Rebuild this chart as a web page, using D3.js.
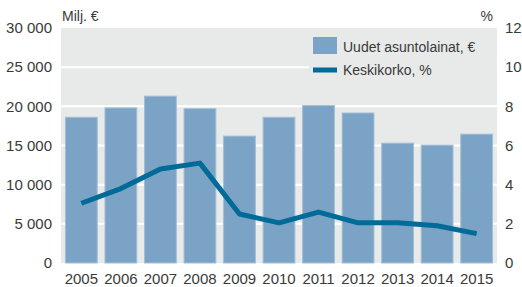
<!DOCTYPE html>
<html>
<head>
<meta charset="utf-8">
<script src="https://cdn.jsdelivr.net/npm/d3@7"></script>
<style>
  body { margin: 0; background: #fff; }
  text { font-family: 'Liberation Sans', Arial, sans-serif; fill: #3a3a3a; }
</style>
</head>
<body>
<div id="chart"></div>
<script>
const years = ['2005', '2006', '2007', '2008', '2009', '2010', '2011', '2012', '2013', '2014', '2015'];
// Uudet asuntolainat, milj. €
const loans = [18600, 19800, 21300, 19700, 16200, 18600, 20100, 19150, 15300, 15050, 16450];
// Keskikorko, %
const rates = [3.05, 3.8, 4.8, 5.1, 2.5, 2.05, 2.6, 2.05, 2.05, 1.9, 1.5];
const leftTicks = [0, 5000, 10000, 15000, 20000, 25000, 30000];
const rightTicks = [0, 2, 4, 6, 8, 10, 12];

const totalWidth = 522;
const totalHeight = 287;
const margin = { top: 28, right: 25, bottom: 24, left: 61 };
const width = totalWidth - margin.left - margin.right;
const height = totalHeight - margin.top - margin.bottom;

const barColor = '#7aa3c6';
const lineColor = '#006b98';
const bgColor = '#e8e9e9';

const fmt = (v) => d3.format(',')(v).replace(/,/g, ' ');

const svg = d3
  .select('#chart')
  .append('svg')
  .attr('width', totalWidth)
  .attr('height', totalHeight)
  .append('g')
  .attr('transform', `translate(${margin.left}, ${margin.top})`);

const xScale = d3.scaleBand().domain(years).range([0, width]).paddingInner(0.17).paddingOuter(0.1);
const yLeft = d3.scaleLinear().domain([0, 30000]).range([height, 0]);
const yRight = d3.scaleLinear().domain([0, 12]).range([height, 0]);

// grey plot background
svg.append('rect')
  .attr('width', width)
  .attr('height', height)
  .attr('fill', bgColor);

// white gridlines
svg.append('g')
  .selectAll('line')
  .data(leftTicks.slice(1, -1))
  .join('line')
  .attr('x1', 0)
  .attr('x2', width)
  .attr('y1', (d) => yLeft(d))
  .attr('y2', (d) => yLeft(d))
  .attr('stroke', '#fff')
  .attr('stroke-width', 2);

// bars
svg.append('g')
  .selectAll('rect')
  .data(years)
  .join('rect')
  .attr('x', (d) => xScale(d) + 0.5)
  .attr('y', (d, i) => yLeft(loans[i]))
  .attr('width', xScale.bandwidth() - 1)
  .attr('height', (d, i) => height - yLeft(loans[i]))
  .attr('fill', barColor)
  .attr('stroke', '#a3bfd8')
  .attr('stroke-width', 1);

// interest line
svg.append('path')
  .datum(rates)
  .attr('fill', 'none')
  .attr('stroke', lineColor)
  .attr('stroke-width', 5)
  .attr('stroke-linejoin', 'round')
  .attr('d', d3.line()
    .x((d, i) => xScale(years[i]) + xScale.bandwidth() / 2)
    .y((d) => yRight(d)));

// left axis
const leftAxis = svg.append('g')
  .call(d3.axisLeft(yLeft).tickValues(leftTicks).tickSize(0).tickPadding(9).tickFormat(fmt));
leftAxis.select('.domain').remove();
leftAxis.selectAll('text').style('font-size', '15px').attr('fill', '#3a3a3a');

// right axis
const rightAxis = svg.append('g')
  .attr('transform', `translate(${width}, 0)`)
  .call(d3.axisRight(yRight).tickValues(rightTicks).tickSize(0).tickPadding(8));
rightAxis.select('.domain').remove();
rightAxis.selectAll('text').style('font-size', '15px').attr('fill', '#3a3a3a');

// bottom axis
const bottomAxis = svg.append('g')
  .attr('transform', `translate(0, ${height})`)
  .call(d3.axisBottom(xScale).tickSize(0).tickPadding(10));
bottomAxis.select('.domain').remove();
bottomAxis.selectAll('text').style('font-size', '15px').attr('fill', '#3a3a3a');

// unit labels
svg.append('text')
  .attr('x', 1)
  .attr('y', -7)
  .style('font-size', '14px')
  .text('Milj. €');

svg.append('text')
  .attr('x', width - 4)
  .attr('y', -7)
  .attr('text-anchor', 'end')
  .style('font-size', '14px')
  .text('%');

// legend
const legend = svg.append('g').attr('transform', 'translate(252, 0)');
legend.append('rect')
  .attr('x', -4)
  .attr('y', 1)
  .attr('width', width - 248)
  .attr('height', 52)
  .attr('fill', bgColor);
legend.append('rect')
  .attr('x', 0)
  .attr('y', 9)
  .attr('width', 24)
  .attr('height', 17)
  .attr('fill', barColor);
legend.append('text')
  .attr('x', 30)
  .attr('y', 24)
  .style('font-size', '14px')
  .text('Uudet asuntolainat, €');
legend.append('line')
  .attr('x1', 0)
  .attr('x2', 24)
  .attr('y1', 42)
  .attr('y2', 42)
  .attr('stroke', lineColor)
  .attr('stroke-width', 5);
legend.append('text')
  .attr('x', 30)
  .attr('y', 47)
  .style('font-size', '14px')
  .text('Keskikorko, %');
</script>
</body>
</html>
